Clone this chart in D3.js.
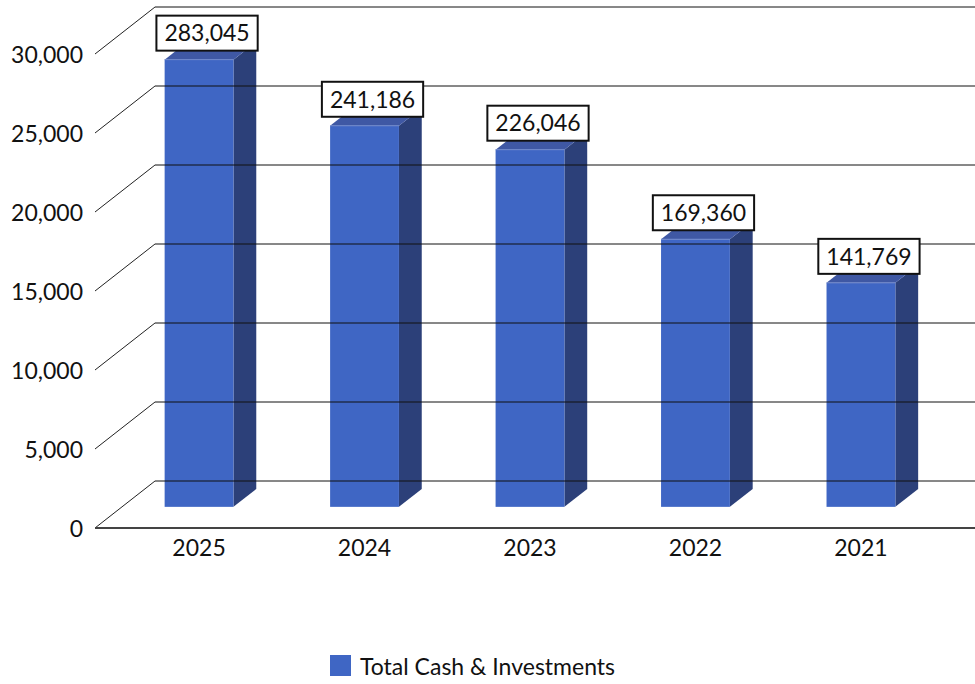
<!DOCTYPE html>
<html>
<head>
<meta charset="utf-8">
<script src="https://cdn.jsdelivr.net/npm/d3@7"></script>
<style>
  html, body { margin: 0; padding: 0; background: #fff; }
  svg { display: block; }
  text { font-family: Lato, "Open Sans", sans-serif; fill: #111; }
</style>
</head>
<body>
<svg id="chart" width="975" height="684"></svg>
<script>
// Total cash & investments by year
const years = ["2025", "2024", "2023", "2022", "2021"];
const totals = [283045, 241186, 226046, 169360, 141769];
const valueLabels = ["283,045", "241,186", "226,046", "169,360", "141,769"];
const tickValues = [0, 50000, 100000, 150000, 200000, 250000, 300000];
const tickLabels = ["0", "5,000", "10,000", "15,000", "20,000", "25,000", "30,000"];
const seriesName = "Total Cash & Investments";

const W = 975, H = 684;
const svg = d3.select("#chart");
const FONT = "Lato, 'Open Sans', sans-serif";

// 3D frame: front plane left edge, full-depth offset of the back wall
const frontLeft = 95, rightEdge = 975;
const depth = { dx: 60, dy: -47 };
// bars occupy this slice of the depth
const barFront = 0.45, barBack = 0.83;

const y = d3.scaleLinear().domain([0, 300000]).range([528, 54]);
const x = d3.scaleBand().domain(years).range([68, 992]).padding(0.584);

const colors = {
  front: "#3F66C4",
  side: "#2C4079",
  top: "#3F58A4",
  topEdge: "#7189CC"
};

const gFrame = svg.append("g");
const gBars = svg.append("g");
const gGrid = svg.append("g");
const gLabels = svg.append("g");

// slanted wall edges from the axis to the back wall
gFrame.selectAll("line.slant")
  .data(tickValues)
  .join("line")
  .attr("x1", frontLeft).attr("y1", d => y(d))
  .attr("x2", frontLeft + depth.dx).attr("y2", d => y(d) + depth.dy)
  .attr("stroke", "#222").attr("stroke-width", 1);

// floor front edge
gFrame.append("line")
  .attr("x1", frontLeft).attr("x2", rightEdge)
  .attr("y1", y(0)).attr("y2", y(0))
  .attr("stroke", "#444").attr("stroke-width", 2);

// bars
const fy = barFront * depth.dy;
const sx = (barBack - barFront) * depth.dx, sy = (barBack - barFront) * depth.dy;
const bw = x.bandwidth();

const bars = gBars.selectAll("g.bar")
  .data(years.map((yr, i) => ({ yr, v: totals[i], label: valueLabels[i] })))
  .join("g").attr("class", "bar");

bars.append("path") // side face
  .attr("fill", colors.side)
  .attr("d", d => {
    const x1 = x(d.yr) + bw, yt = y(d.v) + fy, yb = y(0) + fy;
    return `M${x1},${yb}L${x1},${yt}L${x1 + sx},${yt + sy}L${x1 + sx},${yb + sy}Z`;
  });

bars.append("path") // top face
  .attr("fill", colors.top)
  .attr("d", d => {
    const x0 = x(d.yr), yt = y(d.v) + fy;
    return `M${x0},${yt}L${x0 + bw},${yt}L${x0 + bw + sx},${yt + sy}L${x0 + sx},${yt + sy}Z`;
  });

bars.append("rect") // front face
  .attr("fill", colors.front)
  .attr("x", d => x(d.yr))
  .attr("y", d => y(d.v) + fy)
  .attr("width", bw)
  .attr("height", d => y(0) - y(d.v));

bars.append("line") // highlight along the front top edge
  .attr("x1", d => x(d.yr)).attr("x2", d => x(d.yr) + bw)
  .attr("y1", d => y(d.v) + fy).attr("y2", d => y(d.v) + fy)
  .attr("stroke", colors.topEdge).attr("stroke-width", 1);

// back-wall gridlines run across the bars
gGrid.selectAll("line.grid")
  .data(tickValues)
  .join("line")
  .attr("x1", frontLeft + depth.dx).attr("x2", rightEdge)
  .attr("y1", d => y(d) + depth.dy).attr("y2", d => y(d) + depth.dy)
  .attr("stroke", "#111").attr("stroke-width", 1);

function styleText(sel) {
  sel.style("font-family", FONT).style("font-weight", 400)
    .style("font-size", "23px").attr("fill", "#1a1a1a")
    .attr("letter-spacing", "0");
}

// value axis labels
const yAxis = d3.axisLeft(y)
  .tickValues(tickValues)
  .tickFormat((d, i) => tickLabels[i])
  .tickSize(0).tickPadding(0);
svg.append("g")
  .attr("transform", "translate(83,1.5)")
  .call(yAxis)
  .call(g => g.select(".domain").remove())
  .call(g => g.selectAll("text").call(styleText));

// category axis labels
const xAxis = d3.axisBottom(x).tickSize(0).tickPadding(0);
svg.append("g")
  .attr("transform", `translate(0,${y(0) + 12})`)
  .call(xAxis)
  .call(g => g.select(".domain").remove())
  .call(g => g.selectAll("text").call(styleText));

// value label boxes on top of each bar
bars.each(function(d) {
  const cx = x(d.yr) + bw / 2 + 8;
  const bottom = y(d.v) + fy - 9;
  const g = gLabels.append("g");
  const t = g.append("text")
    .attr("x", cx).attr("y", bottom - 17.5)
    .attr("text-anchor", "middle").attr("dy", "0.36em")
    .call(styleText)
    .text(d.label);
  const tw = t.node().getComputedTextLength();
  g.insert("rect", "text")
    .attr("x", cx - tw / 2 - 8).attr("y", bottom - 35)
    .attr("width", tw + 16).attr("height", 35)
    .attr("fill", "#fff").attr("stroke", "#111").attr("stroke-width", 2);
});

// legend
const legend = svg.append("g").attr("transform", "translate(330,655)");
legend.append("rect").attr("width", 21).attr("height", 21).attr("fill", colors.front);
legend.append("text").attr("x", 30).attr("y", 20)
  .call(styleText)
  .text(seriesName);
</script>
</body>
</html>
